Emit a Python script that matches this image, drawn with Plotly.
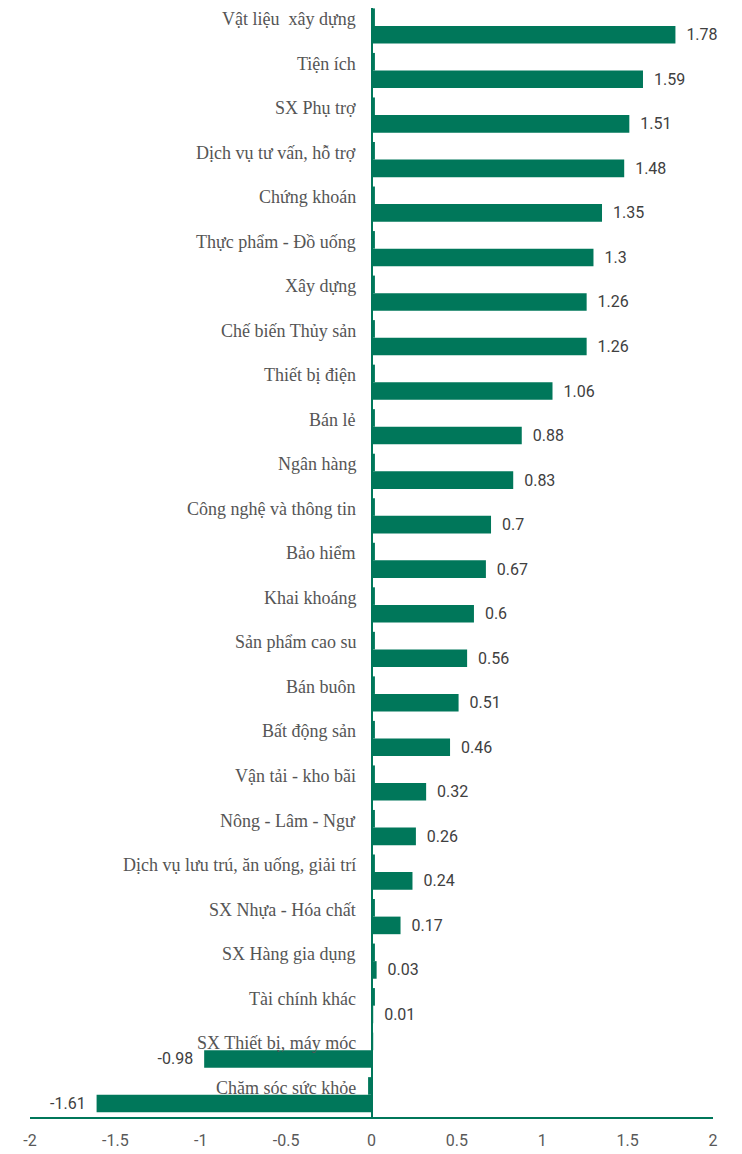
import plotly.graph_objects as go

categories = [
    "Vật liệu  xây dựng", "Tiện ích", "SX Phụ trợ", "Dịch vụ tư vấn, hỗ trợ",
    "Chứng khoán", "Thực phẩm - Đồ uống", "Xây dựng", "Chế biến Thủy sản",
    "Thiết bị điện", "Bán lẻ", "Ngân hàng", "Công nghệ và thông tin",
    "Bảo hiểm", "Khai khoáng", "Sản phẩm cao su", "Bán buôn",
    "Bất động sản", "Vận tải - kho bãi", "Nông - Lâm - Ngư",
    "Dịch vụ lưu trú, ăn uống, giải trí", "SX Nhựa - Hóa chất",
    "SX Hàng gia dụng", "Tài chính khác", "SX Thiết bị, máy móc",
    "Chăm sóc sức khỏe",
]
values = [1.78, 1.59, 1.51, 1.48, 1.35, 1.3, 1.26, 1.26, 1.06, 0.88, 0.83, 0.7,
          0.67, 0.6, 0.56, 0.51, 0.46, 0.32, 0.26, 0.24, 0.17, 0.03, 0.01,
          -0.98, -1.61]
# small companion series drawn next to the label row
label_series = [0.02] * 23 + [0.01, -0.02]
tick_vals = [-2, -1.5, -1, -0.5, 0, 0.5, 1, 1.5, 2]
tick_text = ["-2", "-1.5", "-1", "-0.5", "0", "0.5", "1", "1.5", "2"]

GREEN = "#00775A"
NUM_FONT = "Roboto, Liberation Sans, sans-serif"

value_text = [("  " + f"{v:g}") if v >= 0 else (f"{v:g}" + "  ") for v in values]

fig = go.Figure()
fig.add_trace(go.Bar(
    y=categories, x=label_series, orientation="h",
    marker=dict(color=GREEN, line=dict(width=0)), hoverinfo="skip",
    showlegend=False,
))
fig.add_trace(go.Bar(
    y=categories, x=values, orientation="h",
    marker=dict(color=GREEN, line=dict(width=0)),
    text=value_text, textposition="outside", constraintext="none",
    textfont=dict(family=NUM_FONT, size=16, color="#404040"),
    cliponaxis=False, showlegend=False,
))

for c in categories:
    fig.add_annotation(
        x=0, y=c, xref="x", yref="y", text=c, showarrow=False,
        xanchor="right", yanchor="middle", xshift=-14, yshift=7,
        font=dict(family="Liberation Serif, Times New Roman, serif", size=18, color="#555555"),
    )

# page body adds an 8px offset; figure sized to compensate
fig.update_layout(
    width=734, height=1146,
    margin=dict(l=22, r=29, t=0, b=37, autoexpand=False),
    plot_bgcolor="white", paper_bgcolor="white",
    barmode="group", bargap=0.21, bargroupgap=0,
    xaxis=dict(
        range=[-2, 2], tickvals=tick_vals, ticktext=tick_text,
        showgrid=False, zeroline=True, zerolinecolor=GREEN, zerolinewidth=2,
        showline=True, linecolor=GREEN, linewidth=2, ticks="",
        tickfont=dict(family=NUM_FONT, size=16, color="#595959"),
        ticklabelstandoff=8, automargin=False,
    ),
    yaxis=dict(
        range=[24.5, -0.404], showticklabels=False, showgrid=False,
        zeroline=False, showline=False, ticks="", automargin=False,
    ),
)

fig.write_html("out.html")
